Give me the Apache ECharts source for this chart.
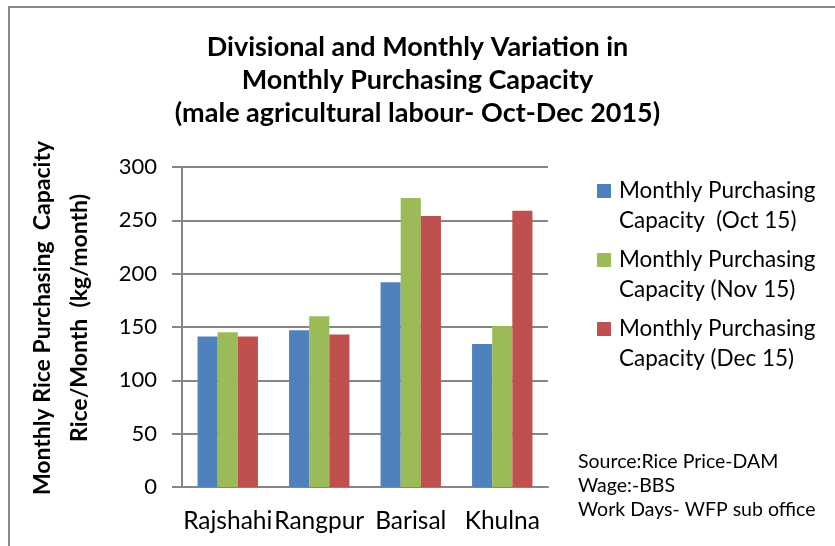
<!DOCTYPE html>
<html lang="en">
<head>
  <meta charset="UTF-8">
  <title>Monthly Purchasing Capacity</title>
  <script src="https://cdn.jsdelivr.net/npm/echarts@6/dist/echarts.min.js"></script>
</head>
<body style="margin:0">
<div id="main" style="width:835px;height:546px;"></div>
<script type="text/javascript">
    var myChart = echarts.init(document.getElementById('main'));

    // divisions on the x axis
    var divisions = ['Rajshahi', 'Rangpur', 'Barisal', 'Khulna'];
    // kg/month
    var octValues = [141, 147, 192, 134];
    var novValues = [145, 160, 271, 151];
    var decValues = [141, 143, 254, 259];
    var seriesNames = [
        'Monthly Purchasing\nCapacity  (Oct 15)',
        'Monthly Purchasing\nCapacity (Nov 15)',
        'Monthly Purchasing\nCapacity (Dec 15)'
    ];
    var sourceLines = ['Source:Rice Price-DAM', 'Wage:-BBS', 'Work Days- WFP sub office'];

    var font = 'Lato';
    var gridColor = '#868686';
    // square at top of a taller box so it lines up with the first text line
    var legendIcon = 'path://M0,9H14V23H0Z M0,0L0,0 M17,62L17,62';

    function bar(name, data, color) {
        return {
            name: name,
            type: 'bar',
            data: data,
            barGap: '0%',
            barCategoryGap: '34%',
            itemStyle: { color: color }
        };
    }

    option = {
        animation: false,
        textStyle: { fontFamily: font },
        title: {
            text: 'Divisional and Monthly Variation in\nMonthly Purchasing Capacity\n(male agricultural labour- Oct-Dec 2015)',
            left: 'center',
            top: 31,
            padding: [0, 0, 0, 9],
            textStyle: {
                fontFamily: font,
                fontSize: 27,
                fontWeight: 'bold',
                color: '#000',
                lineHeight: 33
            }
        },
        legend: {
            orient: 'vertical',
            left: 592,
            top: 170,
            itemGap: 7,
            itemWidth: 17,
            itemHeight: 62,
            icon: legendIcon,
            selectedMode: false,
            textStyle: {
                fontFamily: font,
                fontSize: 22.5,
                lineHeight: 30,
                color: '#000'
            },
            data: seriesNames
        },
        grid: {
            left: 182,
            right: 287,
            top: 167,
            bottom: 59
        },
        xAxis: {
            type: 'category',
            data: divisions,
            axisLine: { lineStyle: { color: gridColor, width: 2 } },
            axisTick: { show: false },
            axisLabel: {
                interval: 0,
                margin: 22,
                fontFamily: font,
                fontSize: 24.5,
                color: '#000'
            }
        },
        yAxis: {
            type: 'value',
            min: 0,
            max: 300,
            interval: 50,
            name: 'Monthly Rice Purchasing  Capacity\nRice/Month  (kg/month)',
            nameLocation: 'middle',
            nameGap: 84,
            nameTextStyle: {
                fontFamily: font,
                fontSize: 23,
                fontWeight: 'bold',
                color: '#000',
                lineHeight: 37,
                padding: [0, 0, 0, 18]
            },
            axisLine: { show: true, lineStyle: { color: gridColor, width: 2 } },
            axisTick: { show: true, length: 10, lineStyle: { color: gridColor, width: 2 } },
            axisLabel: {
                margin: 25,
                fontFamily: font,
                fontSize: 22,
                color: '#000'
            },
            splitLine: { lineStyle: { color: gridColor, width: 2 } }
        },
        graphic: [
            {
                type: 'rect',
                z: -10,
                shape: { x: 9, y: 7, width: 900, height: 600 },
                style: { fill: null, stroke: '#898989', lineWidth: 2 }
            },
            {
                type: 'text',
                left: 578,
                top: 450,
                style: {
                    text: sourceLines.join('\n'),
                    font: '19.5px ' + font,
                    lineHeight: 24,
                    fill: '#000'
                }
            }
        ],
        series: [
            bar(seriesNames[0], octValues, '#4F81BD'),
            bar(seriesNames[1], novValues, '#9BBB59'),
            bar(seriesNames[2], decValues, '#C0504D')
        ]
    };

    myChart.setOption(option);
</script>
</body>
</html>
